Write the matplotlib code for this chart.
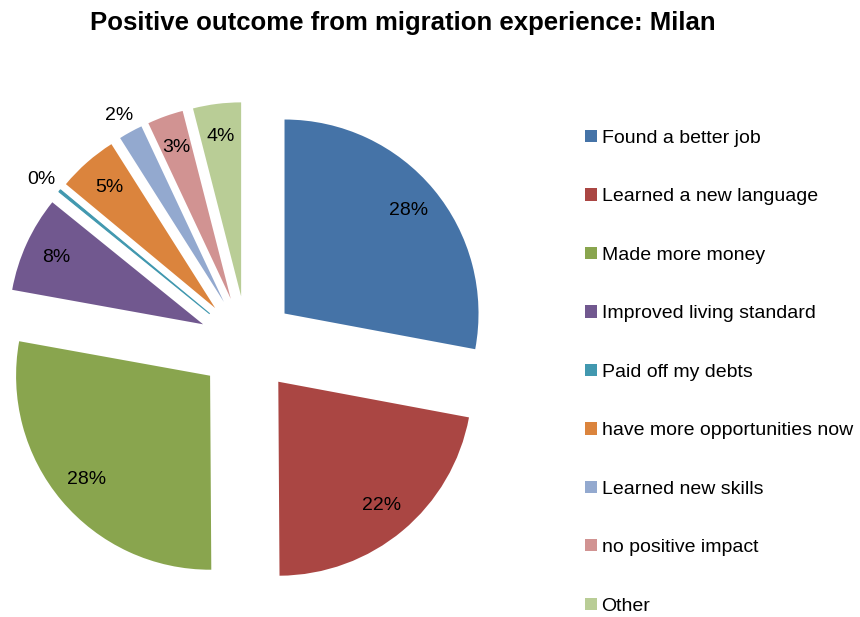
import numpy as np
import matplotlib
matplotlib.use("Agg")
import matplotlib.pyplot as plt
from matplotlib.patches import Patch

plt.rcParams['font.family'] = ['Liberation Sans', 'DejaVu Sans']

categories = ["Found a better job", "Learned a new language", "Made more money",
              "Improved living standard", "Paid off my debts",
              "have more opportunities now", "Learned new skills",
              "no positive impact", "Other"]
values = [28, 22, 28, 8, 0.2, 5, 2, 3, 4]
labels = ["28%", "22%", "28%", "8%", "0%", "5%", "2%", "3%", "4%"]
colors = ["#4573A7", "#AA4643", "#89A54E", "#71588F", "#4198AF",
          "#DB843D", "#93A9CF", "#D19392", "#B9CD96"]
outside = [False, False, False, False, True, False, True, False, False]

W, H = 860, 617
fig = plt.figure(figsize=(W / 100, H / 100), dpi=100)

R = 194.0
cx, cy = 247.2, H - 344.5
ax_w, ax_h = 560, 560
ax = fig.add_axes([0, 0, ax_w / W, ax_h / H])

wedges, _ = ax.pie(values, startangle=90, counterclock=False, colors=colors,
                   explode=[0.25] * len(values), radius=1.0,
                   wedgeprops=dict(linewidth=0.6, edgecolor='none'))
ax.set_aspect('auto')
ax.set_xlim(-cx / R, (ax_w - cx) / R)
ax.set_ylim(-cy / R, (ax_h - cy) / R)
ax.axis('off')

# give the tiny slice a visible line
wedges[4].set_edgecolor(colors[4])
wedges[4].set_linewidth(0.8)

for w, lab, out in zip(wedges, labels, outside):
    mid = np.deg2rad((w.theta1 + w.theta2) / 2)
    d = 1.12 if out else 0.83
    x = w.center[0] + d * np.cos(mid)
    y = w.center[1] + d * np.sin(mid)
    if out:
        y -= 0.02
    ax.text(x, y, lab, ha='center', va='center', fontsize=14, color='black')

fig.text(403 / W, 1 - 23 / H, "Positive outcome from migration experience: Milan",
         ha='center', va='center', fontsize=18.5, fontweight='bold')

handles = [Patch(facecolor=c, edgecolor='none') for c in colors]
fig.legend(handles, categories, loc='upper left',
           bbox_to_anchor=(585 / W, 1 - 130 / H), frameon=False,
           fontsize=14.0, handlelength=0.6, handleheight=0.6,
           handletextpad=0.25, labelspacing=2.13, borderpad=0, borderaxespad=0)

fig.savefig("out.png", dpi=100)
